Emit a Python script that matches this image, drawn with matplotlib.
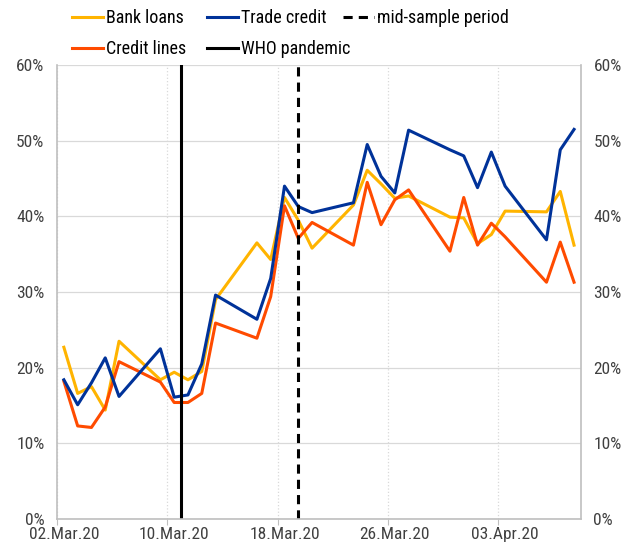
import matplotlib
matplotlib.use("Agg")
import matplotlib.pyplot as plt
import matplotlib.dates as mdates
import matplotlib.ticker as mticker
import pandas as pd

# business days in the sample
dates = pd.to_datetime([
    "2020-03-02", "2020-03-03", "2020-03-04", "2020-03-05", "2020-03-06",
    "2020-03-09", "2020-03-10", "2020-03-11", "2020-03-12", "2020-03-13",
    "2020-03-16", "2020-03-17", "2020-03-18", "2020-03-19", "2020-03-20",
    "2020-03-23", "2020-03-24", "2020-03-25", "2020-03-26", "2020-03-27",
    "2020-03-30", "2020-03-31", "2020-04-01", "2020-04-02", "2020-04-03",
    "2020-04-06", "2020-04-07", "2020-04-08",
])

bank_loans = [22.7, 16.6, 17.5, 14.4, 23.5, 18.4, 19.4, 18.4, 19.5, 29.0,
              36.5, 34.3, 42.5, 39.5, 35.8, 41.5, 46.1, 44.3, 42.4, 42.7,
              39.9, 39.8, 36.4, 37.6, 40.7, 40.6, 43.3, 36.2]
trade_credit = [18.4, 15.1, 18.0, 21.3, 16.2, 22.5, 16.1, 16.4, 20.5, 29.6,
                26.4, 31.8, 44.0, 41.3, 40.5, 41.8, 49.5, 45.3, 43.1, 51.4,
                48.8, 48.0, 43.8, 48.5, 44.0, 36.9, 48.8, 51.5]
credit_lines = [18.2, 12.3, 12.1, 14.8, 20.8, 18.1, 15.4, 15.4, 16.6, 25.9,
                23.9, 29.4, 41.4, 37.1, 39.2, 36.2, 44.5, 38.9, 42.2, 43.5,
                35.4, 42.5, 36.2, 39.1, 37.3, 31.3, 36.6, 31.3]

who_date = pd.Timestamp("2020-03-11")
mid_date = pd.Timestamp("2020-03-19 12:00")

tick_dates = pd.to_datetime(["2020-03-02", "2020-03-10", "2020-03-18",
                             "2020-03-26", "2020-04-03"])
x_start = pd.Timestamp("2020-03-02")
x_end = pd.Timestamp("2020-04-09")

plt.rcParams['font.family'] = ['Roboto Condensed', 'Liberation Sans', 'DejaVu Sans']

fig = plt.figure(figsize=(6.22, 5.47), dpi=100)
ax = fig.add_axes([0.0916, 0.0512, 0.8424, 0.8298])

# points (and labels) sit in the middle of each day
half_day = pd.Timedelta(hours=12)
x = dates + half_day
yellow = '#FFB400'
blue = '#003299'
red = '#FF4B00'

l1, = ax.plot(x, bank_loans, color=yellow, lw=2.2, label='Bank loans')
l2, = ax.plot(x, credit_lines, color=red, lw=2.2, label='Credit lines')
l3, = ax.plot(x, trade_credit, color=blue, lw=2.2, label='Trade credit')
l4 = ax.axvline(who_date, color='black', lw=2.2, label='WHO pandemic')
l5 = ax.axvline(mid_date, color='black', lw=2.2, ls=(0, (3, 2)), label='mid-sample period')

ax.set_ylim(0, 60)
ax.set_xlim(x_start, x_end)
ax.set_xticks(tick_dates)
ax.set_xticks(tick_dates + half_day, minor=True)
ax.xaxis.set_major_formatter(mticker.NullFormatter())
ax.xaxis.set_minor_formatter(mdates.DateFormatter('%d.%b.%y'))
ax.yaxis.set_major_locator(mticker.MultipleLocator(10))
ax.yaxis.set_major_formatter(mticker.FuncFormatter(lambda v, p: f'{v:.0f}%'))

ax.grid(axis='y', color='#d9d9d9', lw=0.9)
ax.grid(axis='x', which='major', color='#d9d9d9', lw=0.9, ls=':')
ax.set_axisbelow(True)

for s in ['left', 'right', 'bottom']:
    ax.spines[s].set_color('#bfbfbf')
    ax.spines[s].set_linewidth(1.2)
ax.spines['top'].set_visible(False)

ax.tick_params(axis='y', length=0, colors='#404040', labelsize=12.5,
               left=True, right=True, labelleft=True, labelright=True, pad=9)
ax.tick_params(axis='x', which='major', length=4, color='#bfbfbf')
ax.tick_params(axis='x', which='minor', length=0, labelcolor='#404040',
               labelsize=12.5, pad=6)

# Excel-like legend: three fixed-width columns
cols = [([l1, l2], 72), ([l3, l4], 207), ([l5], 343)]
for handles, xpix in cols:
    fig.legend(handles=handles, loc='upper left',
               bbox_to_anchor=(xpix / 622, 1 - 9 / 547), borderaxespad=0,
               borderpad=0, frameon=False, handlelength=1.7,
               handletextpad=0.2, labelspacing=0.72, fontsize=13)

fig.savefig('out.png', dpi=100)
